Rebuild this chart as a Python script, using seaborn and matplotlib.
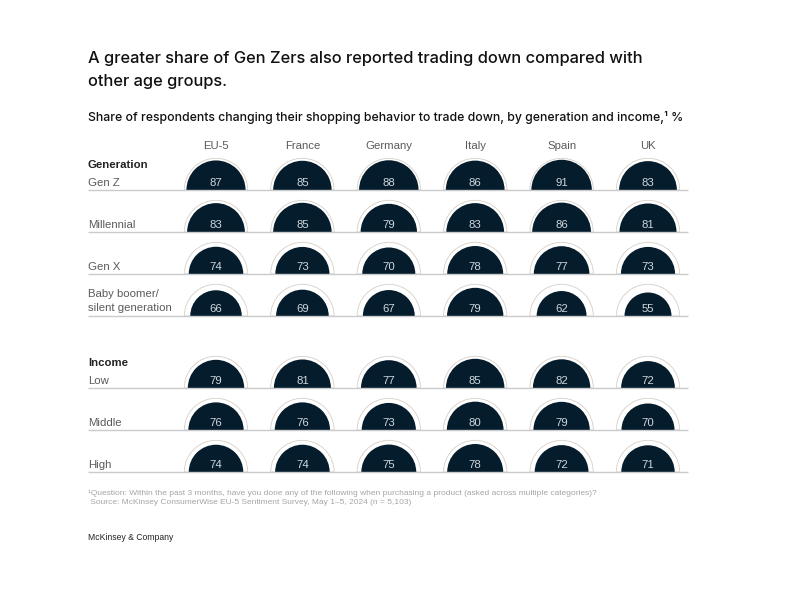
import matplotlib
matplotlib.use('Agg')
import matplotlib.pyplot as plt
from matplotlib.path import Path
import pandas as pd
import seaborn as sns

countries = ['EU-5', 'France', 'Germany', 'Italy', 'Spain', 'UK']
groups = ['Gen Z', 'Millennial', 'Gen X', 'Baby boomer/\nsilent generation', 'Low', 'Middle', 'High']
eu5 = [87, 83, 74, 66, 79, 76, 74]
france = [85, 85, 73, 69, 81, 76, 74]
germany = [88, 79, 70, 67, 77, 73, 75]
italy = [86, 83, 78, 79, 85, 80, 78]
spain = [91, 86, 77, 62, 82, 79, 72]
uk = [83, 81, 73, 55, 72, 70, 71]
full_share = 100

title = 'A greater share of Gen Zers also reported trading down compared with\nother age groups.'
subtitle = 'Share of respondents changing their shopping behavior to trade down, by generation and income,\u00b9 %'
note1 = '\u00b9Question: Within the past 3 months, have you done any of the following when purchasing a product (asked across multiple categories)?'
note2 = ' Source: McKinsey ConsumerWise EU-5 Sentiment Survey, May 1\u20135, 2024 (n = 5,103)'

navy = '#051c2c'
grey = '#5a5a5a'
max_size = 2083  # marker area for a full 100% half circle

sns.set_theme(style='white')
plt.rcParams['font.family'] = ['Liberation Sans', 'DejaVu Sans']

# layout in pixels of the 800x600 picture
row_y = [190, 232, 274, 316, 388, 430, 472]
col_x = [216 + 86.4 * i for i in range(len(countries))]

rows = []
for country, x, values in zip(countries, col_x, [eu5, france, germany, italy, spain, uk]):
    for group, y, value in zip(groups, row_y, values):
        rows.append({'country': country, 'group': group, 'x': x, 'y': y,
                     'value': value, 'full': full_share})
df = pd.DataFrame(rows)

half = Path.wedge(0, 180)

fig = plt.figure(figsize=(8, 6), dpi=100)
ax = fig.add_axes([0, 0, 1, 1])
ax.set_xlim(0, 800)
ax.set_ylim(600, 0)
ax.axis('off')

# thin outer half circle = 100%
sns.scatterplot(data=df, x='x', y='y', size='full', sizes=(0, max_size), size_norm=(0, 100),
                marker=half, facecolor='none', edgecolor='#d6cfc8', linewidth=0.6,
                legend=False, ax=ax, zorder=2)
sns.scatterplot(data=df, x='x', y='y', size='value', sizes=(0, max_size), size_norm=(0, 100),
                marker=half, color=navy, edgecolor='none', linewidth=0, legend=False, ax=ax, zorder=3)
ax.hlines(row_y, 88, 688, color='#c9cbcd', linewidth=1, zorder=4)

for _, r in df.iterrows():
    ax.text(r['x'], r['y'] - 7, str(r['value']), color='#cfd8de', fontsize=8.2,
            ha='center', va='center', zorder=5)

for x, c in zip(col_x, countries):
    ax.text(x, 146, c, color=grey, fontsize=8.2, ha='center', va='center')

for y, g in zip(row_y, groups):
    if '\n' in g:
        ax.text(88, y - 15, g, color=grey, fontsize=8.2, ha='left', va='center', linespacing=1.45)
    else:
        ax.text(88, y - 7, g, color=grey, fontsize=8.2, ha='left', va='center')
ax.text(88, 165, 'Generation', color='#222222', fontsize=8.2, fontweight='bold', va='center')
ax.text(88, 363, 'Income', color='#222222', fontsize=8.2, fontweight='bold', va='center')

ax.text(88, 70, title, color='#111111', fontsize=11.83, family=['Inter', 'DejaVu Sans'], fontweight='medium',
        va='center', linespacing=1.6)
ax.text(88, 118, subtitle, color='#111111', fontsize=8.84, family=['Inter', 'DejaVu Sans'], fontweight='medium',
        va='center')
ax.text(88, 493, note1, color='#a5a5a5', fontsize=6.0, va='center')
ax.text(88, 503, note2, color='#a5a5a5', fontsize=6.0, va='center')
ax.text(88, 537, 'McKinsey & Company', color='#222222', fontsize=6.2, va='center')

fig.savefig('out.png', dpi=100)
